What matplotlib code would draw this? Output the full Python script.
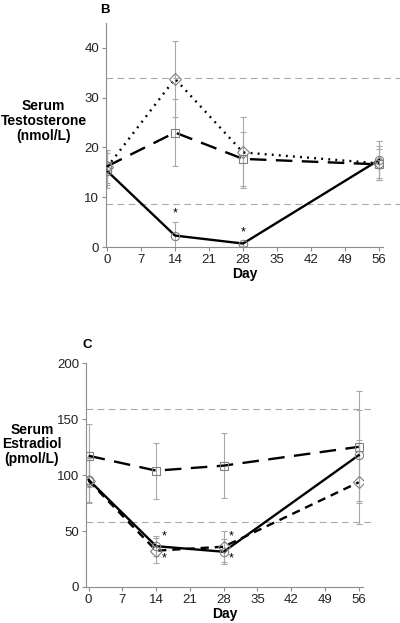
import matplotlib.pyplot as plt

plt.rcParams['font.family'] = ['Liberation Sans', 'DejaVu Sans']

days = [0, 14, 28, 56]
xticks = [0, 7, 14, 21, 28, 35, 42, 49, 56]

# panel B - serum testosterone (nmol/L)
t_circle = [15.3, 2.3, 0.7, 17.5]
t_circle_err = [3.5, 2.7, 0.4, 3.7]
t_square = [16.2, 23.0, 17.7, 16.6]
t_square_err = [3.3, 6.7, 5.5, 3.1]
t_diamond = [16.0, 33.8, 19.0, 16.8]
t_diamond_err = [3.5, 7.6, 7.1, 3.4]
t_ref = [33.9, 8.7]
t_stars = [(14, 6.7), (28, 3.0)]

# panel C - serum estradiol (pmol/L)
e_circle = [95.8, 36.5, 31.5, 117.8]
e_circle_err = [20, 9, 11, 40.7]
e_square = [117.3, 104.0, 108.5, 125.3]
e_square_err = [28, 25, 29, 50]
e_diamond = [95.0, 32.5, 36.0, 93.6]
e_diamond_err = [20, 11, 14, 37.5]
e_ref = [159, 58]
e_stars = [(15.7, 45.4), (15.7, 25.4), (29.5, 45.4), (29.5, 25.4)]

grey = '#8c8c8c'
fig = plt.figure(figsize=(4, 6.23), dpi=100)
ax1 = fig.add_axes([0.265, 0.6035, 0.6925, 0.3596])
ax2 = fig.add_axes([0.215, 0.0578, 0.6925, 0.3591])


def style(ax):
    for s in ['top', 'right']:
        ax.spines[s].set_visible(False)
    for s in ['left', 'bottom']:
        ax.spines[s].set_color(grey)
        ax.spines[s].set_linewidth(0.8)
    ax.tick_params(colors=grey, labelcolor='#222222', labelsize=9.5, length=3, width=0.8, pad=2)
    ax.set_xticks(xticks)
    ax.set_xlabel('Day', fontsize=10, fontweight='bold', labelpad=1)


def series(ax, y, err, ls, marker, dashes=None):
    ax.errorbar(days, y, yerr=err, fmt='none', ecolor='#a8a8a8', elinewidth=0.8, capsize=2, capthick=0.8, zorder=2)
    line, = ax.plot(days, y, color='black', linestyle=ls, linewidth=1.7, zorder=3)
    if dashes:
        line.set_dashes(dashes)
    ax.plot(days, y, linestyle='none', marker=marker, markersize=6, markerfacecolor='none',
            markeredgecolor='#808080', markeredgewidth=0.8, zorder=4)


# panel B
style(ax1)
for r in t_ref:
    ax1.axhline(r, xmin=0, xmax=1.06, color='#aaaaaa', linestyle=(0, (6, 4)), linewidth=0.8, clip_on=False, zorder=1)
series(ax1, t_diamond, t_diamond_err, ':', 'D', dashes=(0.8, 2.2))
series(ax1, t_square, t_square_err, '--', 's', dashes=(7, 4))
series(ax1, t_circle, t_circle_err, '-', 'o')
for x, y in t_stars:
    ax1.text(x, y, '*', ha='center', va='center', fontsize=9)
ax1.set_xlim(-0.2, 56.8)
ax1.set_ylim(0, 45)
ax1.set_yticks([0, 10, 20, 30, 40])
ax1.text(-0.225, 0.5625, 'Serum\nTestosterone\n(nmol/L)', transform=ax1.transAxes, ha='center', va='center',
         fontsize=10, fontweight='bold', linespacing=1.05)
fig.text(0.25, 0.984, 'B', fontsize=9.5, fontweight='bold', ha='left', va='center')

# panel C
style(ax2)
for r in e_ref:
    ax2.axhline(r, xmin=0, xmax=1.043, color='#aaaaaa', linestyle=(0, (6, 4)), linewidth=0.8, clip_on=False, zorder=1)
series(ax2, e_diamond, e_diamond_err, '--', 'D', dashes=(3.5, 2.5))
series(ax2, e_square, e_square_err, '--', 's', dashes=(7, 4))
series(ax2, e_circle, e_circle_err, '-', 'o')
for x, y in e_stars:
    ax2.text(x, y, '*', ha='center', va='center', fontsize=9)
ax2.set_xlim(-0.55, 56.9)
ax2.set_ylim(0, 200)
ax2.set_yticks([0, 50, 100, 150, 200])
ax2.text(-0.195, 0.638, 'Serum\nEstradiol\n(pmol/L)', transform=ax2.transAxes, ha='center', va='center',
         fontsize=10, fontweight='bold', linespacing=1.05)
fig.text(0.207, 0.446, 'C', fontsize=9.5, fontweight='bold', ha='left', va='center')

fig.savefig('out.png', dpi=100)
